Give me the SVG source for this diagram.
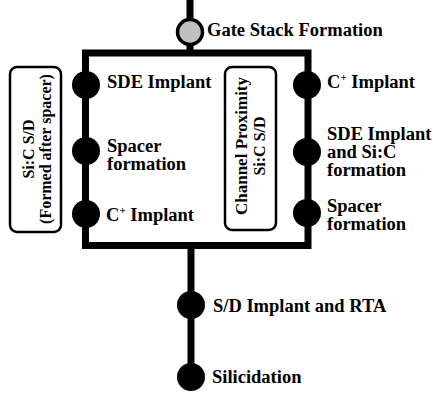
<svg xmlns="http://www.w3.org/2000/svg" width="433" height="398" viewBox="0 0 433 398">
<style>
.line{fill:none;stroke:#000;stroke-width:7;stroke-linejoin:miter;stroke-linecap:butt}
.dot{fill:#000}
.lbl{font-family:"Liberation Serif","Times New Roman",serif;font-weight:bold;font-size:18.5px;fill:#000}
.vl{font-family:"Liberation Serif","Times New Roman",serif;font-weight:bold;font-size:16px;fill:#000;text-anchor:middle}
.box{fill:#fff;stroke:#000;stroke-width:2.5}
.sup{font-size:11px}
</style>
<rect width="433" height="398" fill="#fff"/>
<g id="connectors">
<line class="line" x1="190" y1="0" x2="190" y2="53"/>
<rect class="line" x="85.5" y="53" width="222.5" height="192.5"/>
<line class="line" x1="191" y1="245.5" x2="191" y2="377"/>
</g>
<g id="gate">
<circle cx="190" cy="32" r="12.5" fill="#c0c0c0" stroke="#000" stroke-width="3.5"/>
<text class="lbl" x="207" y="36">Gate Stack Formation</text>
</g>
<g id="left-box">
<rect class="box" x="10" y="67" width="51" height="165" rx="7"/>
<text class="vl" transform="translate(34,149) rotate(-90)"><tspan x="0" y="0">Si:C S/D</tspan><tspan x="0" y="17">(Formed after spacer)</tspan></text>
</g>
<g id="mid-box">
<rect class="box" x="225" y="67" width="51" height="163" rx="7"/>
<text class="vl" transform="translate(247,146) rotate(-90)"><tspan x="0" y="0" style="font-size:17px">Channel Proximity</tspan><tspan x="0" y="18">Si:C S/D</tspan></text>
</g>
<g id="l-sde">
<circle class="dot" cx="86" cy="85" r="14"/>
<text class="lbl" x="107" y="88">SDE Implant</text>
</g>
<g id="l-spacer">
<circle class="dot" cx="86" cy="151" r="14"/>
<text class="lbl"><tspan x="107" y="152">Spacer</tspan><tspan x="107" y="170">formation</tspan></text>
</g>
<g id="l-cplus">
<circle class="dot" cx="86" cy="214" r="14"/>
<text class="lbl" x="106" y="221">C<tspan class="sup" dy="-7">+</tspan><tspan dy="7"> Implant</tspan></text>
</g>
<g id="r-cplus">
<circle class="dot" cx="307" cy="85" r="14"/>
<text class="lbl" x="327" y="88">C<tspan class="sup" dy="-7">+</tspan><tspan dy="7"> Implant</tspan></text>
</g>
<g id="r-sde">
<circle class="dot" cx="307" cy="152" r="14"/>
<text class="lbl"><tspan x="327" y="140">SDE Implant</tspan><tspan x="327" y="158">and Si:C</tspan><tspan x="327" y="176">formation</tspan></text>
</g>
<g id="r-spacer">
<circle class="dot" cx="307" cy="213" r="14"/>
<text class="lbl"><tspan x="327" y="212">Spacer</tspan><tspan x="327" y="230">formation</tspan></text>
</g>
<g id="sd">
<circle class="dot" cx="191" cy="305" r="14"/>
<text class="lbl" x="213" y="312">S/D Implant and RTA</text>
</g>
<g id="silicid">
<circle class="dot" cx="191" cy="377" r="14"/>
<text class="lbl" x="212" y="383">Silicidation</text>
</g>
</svg>
